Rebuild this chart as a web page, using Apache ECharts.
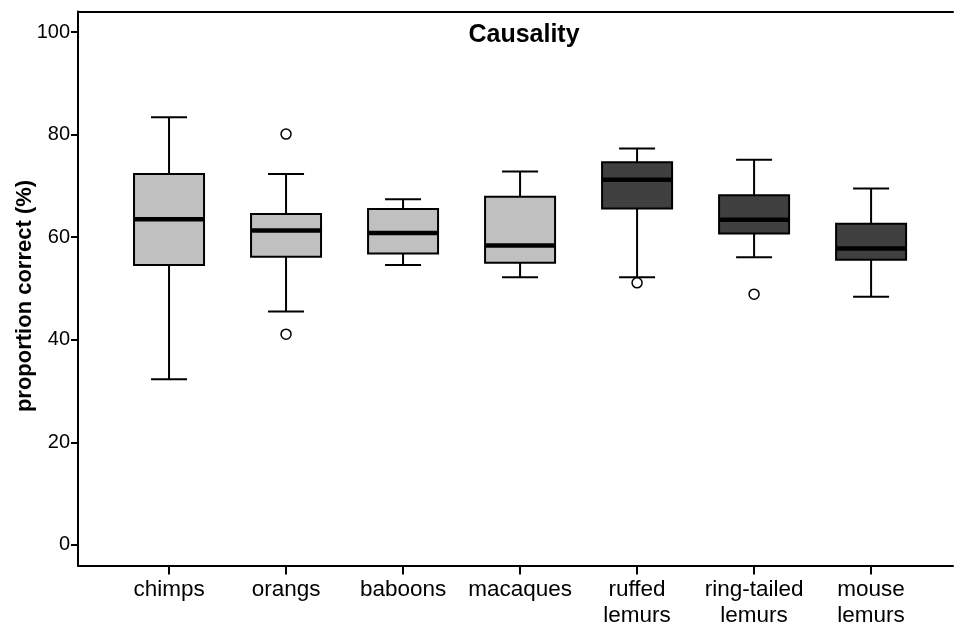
<!DOCTYPE html>
<html>
<head>
<meta charset="utf-8">
<script src="https://cdn.jsdelivr.net/npm/echarts@6/dist/echarts.min.js"></script>
<style>html,body{margin:0;padding:0;background:#fff;}#main{width:954px;height:624px;}</style>
</head>
<body>
<div id="main"></div>
<script>
var categories = ['chimps', 'orangs', 'baboons', 'macaques', 'ruffed\nlemurs', 'ring-tailed\nlemurs', 'mouse\nlemurs'];
var groups = ['anthropoid', 'anthropoid', 'anthropoid', 'anthropoid', 'lemur', 'lemur', 'lemur'];
var mins    = [32.3, 45.5, 54.6, 52.2, 52.2, 56.1, 48.4];
var q1s     = [54.6, 56.2, 56.8, 55.0, 65.6, 60.7, 55.6];
var medians = [63.5, 61.3, 60.8, 58.4, 71.2, 63.4, 57.8];
var q3s     = [72.3, 64.5, 65.5, 67.9, 74.6, 68.2, 62.6];
var maxs    = [83.4, 72.3, 67.4, 72.8, 77.3, 75.1, 69.5];
var outlierCategories = ['orangs', 'orangs', 'ruffed\nlemurs', 'ring-tailed\nlemurs'];
var outlierValues     = [80.1, 41.1, 51.1, 48.9];
var yTicks = [0, 20, 40, 60, 80, 100];
var title = 'Causality';
var yName = 'proportion correct (%)';

var groupColors = { anthropoid: '#c0c0c0', lemur: '#404040' };
var FONT = '"Liberation Sans", Arial, sans-serif';

var boxData = categories.map(function (c, i) {
  return [i, mins[i], q1s[i], medians[i], q3s[i], maxs[i]];
});
var outlierData = outlierCategories.map(function (c, i) {
  return [categories.indexOf(c), outlierValues[i]];
});
var catIdx = categories.map(function (c, i) { return i; });

function renderBox(params, api) {
  var i = api.value(0);
  var pMin = api.coord([i, api.value(1)]);
  var pQ1 = api.coord([i, api.value(2)]);
  var pMed = api.coord([i, api.value(3)]);
  var pQ3 = api.coord([i, api.value(4)]);
  var pMax = api.coord([i, api.value(5)]);
  var halfBox = 35, halfCap = 18;
  var x = pQ1[0];
  var fill = groupColors[groups[i]];
  var line = { stroke: '#000', lineWidth: 2 };
  return {
    type: 'group',
    children: [
      { type: 'line', shape: { x1: x, y1: pMax[1], x2: x, y2: pQ3[1] }, style: line },
      { type: 'line', shape: { x1: x, y1: pQ1[1], x2: x, y2: pMin[1] }, style: line },
      { type: 'line', shape: { x1: x - halfCap, y1: pMax[1], x2: x + halfCap, y2: pMax[1] }, style: line },
      { type: 'line', shape: { x1: x - halfCap, y1: pMin[1], x2: x + halfCap, y2: pMin[1] }, style: line },
      { type: 'rect', shape: { x: x - halfBox, y: pQ3[1], width: 2 * halfBox, height: pQ1[1] - pQ3[1] },
        style: { fill: fill, stroke: '#000', lineWidth: 2 } },
      { type: 'line', shape: { x1: x - halfBox, y1: pMed[1], x2: x + halfBox, y2: pMed[1] },
        style: { stroke: '#000', lineWidth: 4.5 } }
    ]
  };
}

var chart = echarts.init(document.getElementById('main'), null, { renderer: 'canvas' });
chart.setOption({
  animation: false,
  backgroundColor: '#fff',
  title: {
    text: title, left: 519, top: 18, textAlign: 'center',
    textStyle: { fontFamily: FONT, fontWeight: 'bold', fontSize: 25, color: '#000' }
  },
  graphic: [{
    type: 'text', x: 25, y: 296, rotation: Math.PI / 2,
    style: { text: yName, font: 'bold 22px ' + FONT, fill: '#000', align: 'center', verticalAlign: 'middle' }
  }],
  grid: { left: 78, right: 1, top: 11.5, bottom: 58.5, containLabel: false, outerBoundsMode: 'none' },
  xAxis: [{
    type: 'value', min: -0.778, max: 6.70, position: 'bottom',
    splitLine: { show: false },
    axisLine: { show: true, onZero: false, lineStyle: { color: '#000', width: 2 } },
    axisTick: { show: true, length: 9, inside: false, customValues: catIdx, lineStyle: { color: '#000', width: 2 } },
    axisLabel: {
      customValues: catIdx, margin: 11, fontFamily: FONT, fontSize: 22.5, color: '#000', lineHeight: 26,
      formatter: function (v) { return categories[Math.round(v)] || ''; }
    }
  }, {
    type: 'value', min: -0.778, max: 6.70, position: 'top',
    splitLine: { show: false },
    axisLine: { show: true, onZero: false, lineStyle: { color: '#000', width: 2 } },
    axisTick: { show: false }, axisLabel: { show: false }
  }],
  yAxis: {
    type: 'value', min: -4, max: 104,
    splitLine: { show: false },
    axisLine: { show: true, onZero: false, lineStyle: { color: '#000', width: 2 } },
    axisTick: { show: true, length: 7, customValues: yTicks, lineStyle: { color: '#000', width: 2 } },
    axisLabel: { customValues: yTicks, margin: 8, fontFamily: FONT, fontSize: 20, color: '#000' }
  },
  series: [{
    type: 'custom', xAxisIndex: 0, renderItem: renderBox, data: boxData,
    encode: { x: 0, y: [1, 2, 3, 4, 5] }, z: 2
  }, {
    type: 'scatter', xAxisIndex: 0, data: outlierData, symbol: 'circle', symbolSize: 10,
    itemStyle: { color: '#fff', borderColor: '#000', borderWidth: 1.5, opacity: 1 }, z: 3
  }]
});
</script>
</body>
</html>
